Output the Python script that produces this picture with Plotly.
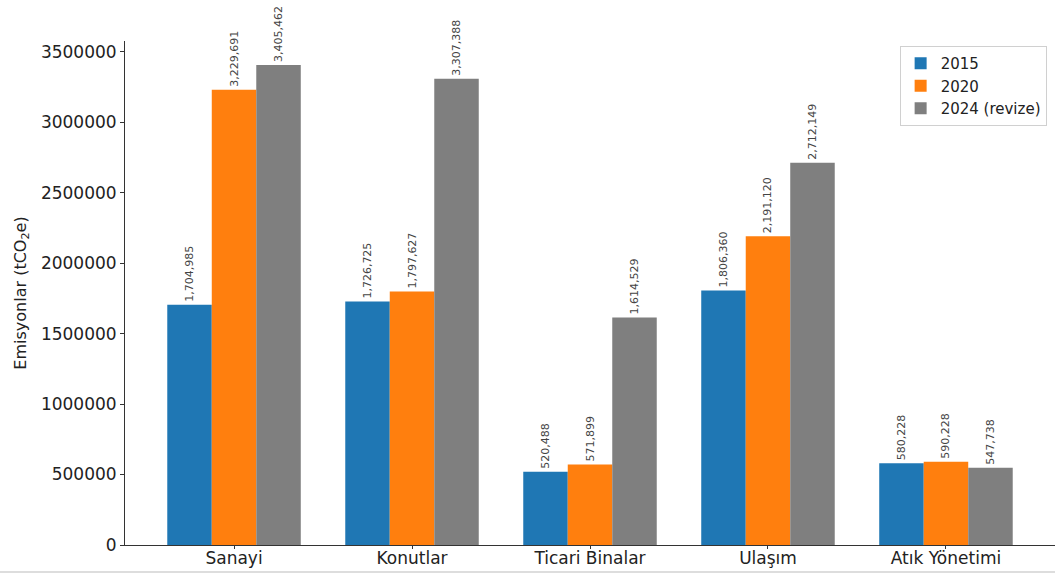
import plotly.graph_objects as go

categories = ["Sanayi", "Konutlar", "Ticari Binalar", "Ulaşım", "Atık Yönetimi"]
series_names = ["2015", "2020", "2024 (revize)"]
values_2015 = [1704985, 1726725, 520488, 1806360, 580228]
values_2020 = [3229691, 1797627, 571899, 2191120, 590228]
values_2024 = [3405462, 3307388, 1614529, 2712149, 547738]
colors = ["#1f77b4", "#ff7f0e", "#7f7f7f"]
y_ticks = [0, 500000, 1000000, 1500000, 2000000, 2500000, 3000000, 3500000]

all_series = [values_2015, values_2020, values_2024]
offsets = [-0.25, 0.0, 0.25]

fig = go.Figure()
for name, vals, col, off in zip(series_names, all_series, colors, offsets):
    xs = [i + off for i in range(len(categories))]
    fig.add_trace(go.Bar(
        x=xs, y=vals, name=name, width=0.25,
        marker=dict(color=col, line=dict(width=0)),
        text=[f"{v:,}" for v in vals],
        textposition="outside", textangle=-90,
        textfont=dict(size=11, color="#444", family="DejaVu Sans"),
        constraintext="none", cliponaxis=False,
    ))

ymax = max(max(s) for s in all_series) * 1.05
fig.update_layout(
    width=1056, height=575,
    margin=dict(l=125, r=1, t=41, b=30),
    plot_bgcolor="white", paper_bgcolor="white",
    barmode="overlay",
    font=dict(family="DejaVu Sans", color="#222"),
    legend=dict(x=0.991, y=0.99, xanchor="right", yanchor="top",
                bordercolor="#d0d0d0", borderwidth=1, bgcolor="rgba(255,255,255,0.8)",
                font=dict(size=15), traceorder="normal", itemwidth=30),
    showlegend=True,
)
fig.update_xaxes(
    range=[-0.6125, len(categories) - 1 + 0.6125],
    tickvals=list(range(len(categories))), ticktext=categories,
    showline=True, linecolor="#333", linewidth=1,
    ticks="outside", ticklen=3, tickcolor="#333",
    showgrid=False, zeroline=False, automargin=False,
    tickfont=dict(size=17), ticklabelstandoff=-5,
)
fig.update_yaxes(
    range=[0, ymax],
    tickvals=y_ticks, tickformat="d",
    showline=True, linecolor="#333", linewidth=1,
    ticks="outside", ticklen=4, tickcolor="#333",
    showgrid=False, zeroline=False, automargin=False,
    tickfont=dict(size=17),
    title=dict(text="Emisyonlar (tCO<sub>2</sub>e)", font=dict(size=16), standoff=10),
)
fig.add_shape(type="line", xref="paper", yref="paper",
              x0=-127/928, x1=1, y0=-27/504, y1=-27/504,
              line=dict(color="#bbbbbb", width=1))
fig.write_html("out.html", config={"displayModeBar": False},
               post_script="document.body.style.margin='0';")
